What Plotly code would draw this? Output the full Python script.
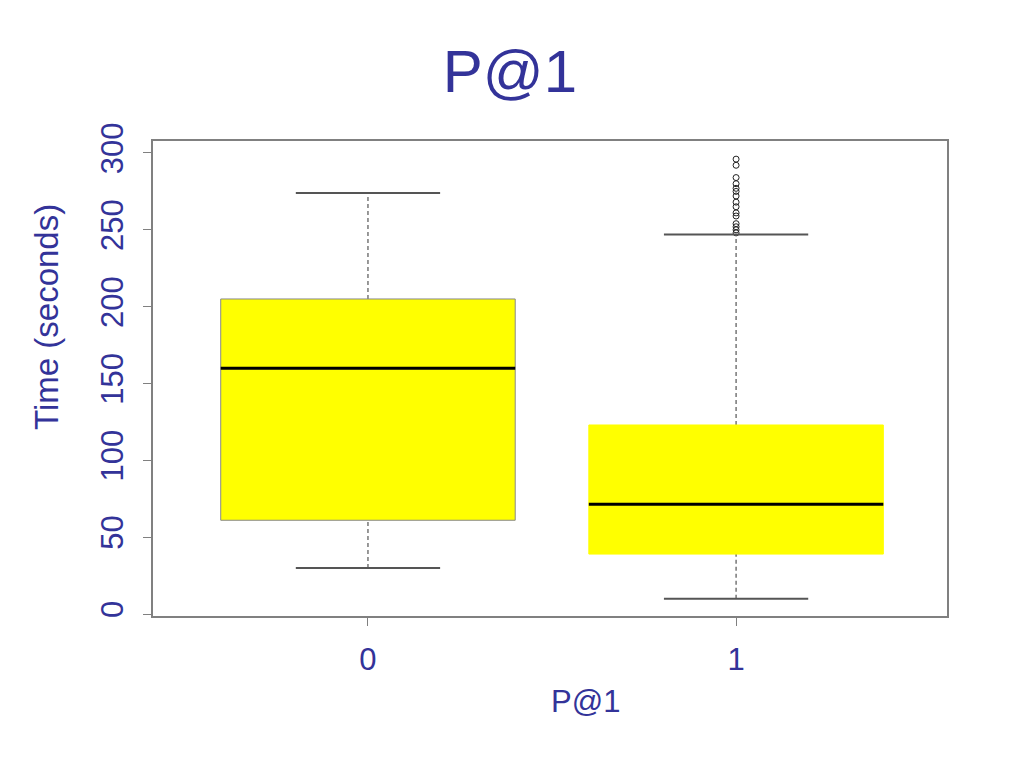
import plotly.graph_objects as go

# Data
groups = ["0", "1"]
positions = [0, 1]
lower_whisker = [30, 10]
q1 = [61, 39]
median = [160, 71.5]
q3 = [205, 123]
upper_whisker = [274, 247]
outliers_group1 = [296, 292, 284, 280, 277, 275, 272, 268, 265, 261, 259, 254, 252, 250, 248]
y_ticks = [0, 50, 100, 150, 200, 250, 300]

BLUE = "#333399"
FONT = "Liberation Sans, Arial, Helvetica, sans-serif"
box_half = 0.40
cap_half = 0.196

fig = go.Figure()
shapes = []
for i, p in enumerate(positions):
    # dashed whiskers
    shapes.append(dict(type="line", xref="x", yref="y", x0=p, x1=p, y0=q3[i], y1=upper_whisker[i],
                       line=dict(color="#555555", width=1.2, dash="4px,3px")))
    shapes.append(dict(type="line", xref="x", yref="y", x0=p, x1=p, y0=lower_whisker[i], y1=q1[i],
                       line=dict(color="#555555", width=1.2, dash="4px,3px")))
    # caps
    for v in (lower_whisker[i], upper_whisker[i]):
        shapes.append(dict(type="line", xref="x", yref="y", x0=p - cap_half, x1=p + cap_half, y0=v, y1=v,
                           line=dict(color="#555555", width=2)))
    # box
    shapes.append(dict(type="rect", xref="x", yref="y", x0=p - box_half, x1=p + box_half, y0=q1[i], y1=q3[i],
                       fillcolor="#FFFF00", line=dict(color="#888888" if i == 0 else "#FFFF00", width=1)))
    # median
    shapes.append(dict(type="line", xref="x", yref="y", x0=p - box_half, x1=p + box_half, y0=median[i], y1=median[i],
                       line=dict(color="#000000", width=3)))

fig.add_trace(go.Scatter(
    x=[positions[1]] * len(outliers_group1), y=outliers_group1, mode="markers",
    marker=dict(symbol="circle-open", size=6, color="#222222", line=dict(width=1)),
    showlegend=False, hoverinfo="y"))

fig.update_layout(
    width=1024, height=768,
    paper_bgcolor="white", plot_bgcolor="white",
    margin=dict(l=145, r=85, t=133, b=160, autoexpand=False),
    shapes=shapes,
    showlegend=False,
    title=dict(text="P@1", x=502 / 1024, xanchor="center", y=1 - 63 / 768, yanchor="middle", yref="container",
               font=dict(family=FONT, size=60, color=BLUE)),
    font=dict(family=FONT, color=BLUE),
    annotations=[
        dict(text="Time (seconds)", xref="paper", yref="paper", x=-0.1335, y=0.6295,
             xanchor="center", yanchor="middle", textangle=-90, showarrow=False,
             font=dict(family=FONT, size=33, color=BLUE)),
        dict(text="P@1", xref="paper", yref="paper", x=0.5453, y=-0.181,
             xanchor="center", yanchor="middle", showarrow=False,
             font=dict(family=FONT, size=31, color=BLUE)),
    ],
)
fig.update_xaxes(
    automargin=False,
    range=[-0.584, 1.573], tickmode="array", tickvals=positions, ticktext=groups,
    showgrid=False, zeroline=False, showline=True, mirror=True, linecolor="#808080", linewidth=1.5,
    ticks="outside", ticklen=8, tickcolor="#808080",
    tickfont=dict(family=FONT, size=31, color=BLUE),
    ticklabelstandoff=7,
)
fig.update_yaxes(
    automargin=False,
    range=[-1.3, 307.8], tickmode="array", tickvals=y_ticks, ticktext=[str(v) for v in y_ticks],
    tickangle=-90,
    showgrid=False, zeroline=False, showline=True, mirror=True, linecolor="#808080", linewidth=1.5,
    ticks="outside", ticklen=8, tickcolor="#808080",
    tickfont=dict(family=FONT, size=31, color=BLUE),
    ticklabelstandoff=8,
)

fig.write_html("out.html")
